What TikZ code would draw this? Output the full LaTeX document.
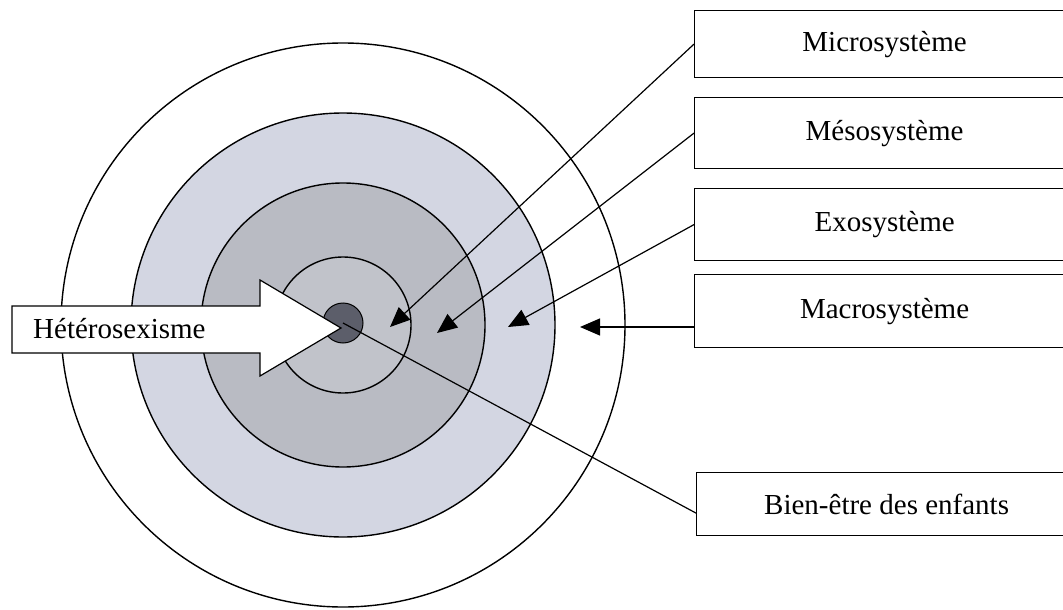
\documentclass[tikz,border=0pt]{standalone}
\usepackage{fontspec}
\setmainfont{Liberation Serif}
\usepackage{xcolor}
\definecolor{ringlight}{HTML}{D3D6E2}
\definecolor{ringmid}{HTML}{B9BBC3}
\definecolor{ringcore}{HTML}{C1C3CA}
\definecolor{coregray}{HTML}{5C5E6A}
\usetikzlibrary{arrows.meta,positioning,calc}

\begin{document}
\begin{tikzpicture}[x=1pt, y=-1pt,
  lbox/.style={rectangle, draw=black, line width=1.2pt, fill=white,
               minimum width=380pt, anchor=north west,
               font=\fontsize{29}{34}\selectfont},
  ring/.style={draw=black, line width=1.4pt},
  arr/.style={-{Triangle[length=20pt,width=17pt]}, line width=1.2pt}
]
\useasboundingbox (0,0) rectangle (1063,610);
\clip (0,0) rectangle (1063,610);

% Nested circles
\coordinate (mid) at (343,325);
\draw[ring] (mid) circle (282pt);
\draw[ring, fill=ringlight] (mid) circle (212pt);
\draw[ring, fill=ringmid]   (mid) circle (142pt);
\draw[ring, fill=ringcore]  (mid) circle (68pt);
\node[circle, draw=black, line width=1pt, fill=coregray,
      minimum size=40pt, inner sep=0pt] (core) at (343,323) {};

% Label boxes
\node[lbox, minimum height=67pt] (micro) at (694,10)  {Microsystème};
\node[lbox, minimum height=71pt] (meso)  at (694,97)  {Mésosystème};
\node[lbox, minimum height=72pt] (exo)   at (694,188) {Exosystème};
\node[lbox, minimum height=73pt] (macro) at (694,274) {Macrosystème};
\node[lbox, minimum height=63pt] (bien)  at (696,472) {Bien-être des enfants};

% Arrow tips
\coordinate (microtip) at (390,327);
\coordinate (mesotip)  at (437,333);
\coordinate (exotip)   at (508,327);
\coordinate (macrotip) at (580,327);

% Line to the core
\draw[line width=1.2pt] (core.center) -- ($(bien.west)+(0,9)$);

% Big arrow
\draw[line width=1.2pt, fill=white]
  (12,306) -- (260,306) -- (260,280) -- (341,328) -- (260,376)
  -- (260,353) -- (12,353) -- cycle;
\node[anchor=west, inner sep=0pt, font=\fontsize{29}{34}\selectfont]
  (hetero) at (33,329) {Hétérosexisme};

% Arrows
\draw[arr] (micro.west) -- (microtip);
\draw[arr] (meso.west)  -- (mesotip);
\draw[arr] (exo.west)   -- (exotip);
\draw[arr] (macro.west |- macrotip) -- (macrotip);
\end{tikzpicture}
\end{document}
